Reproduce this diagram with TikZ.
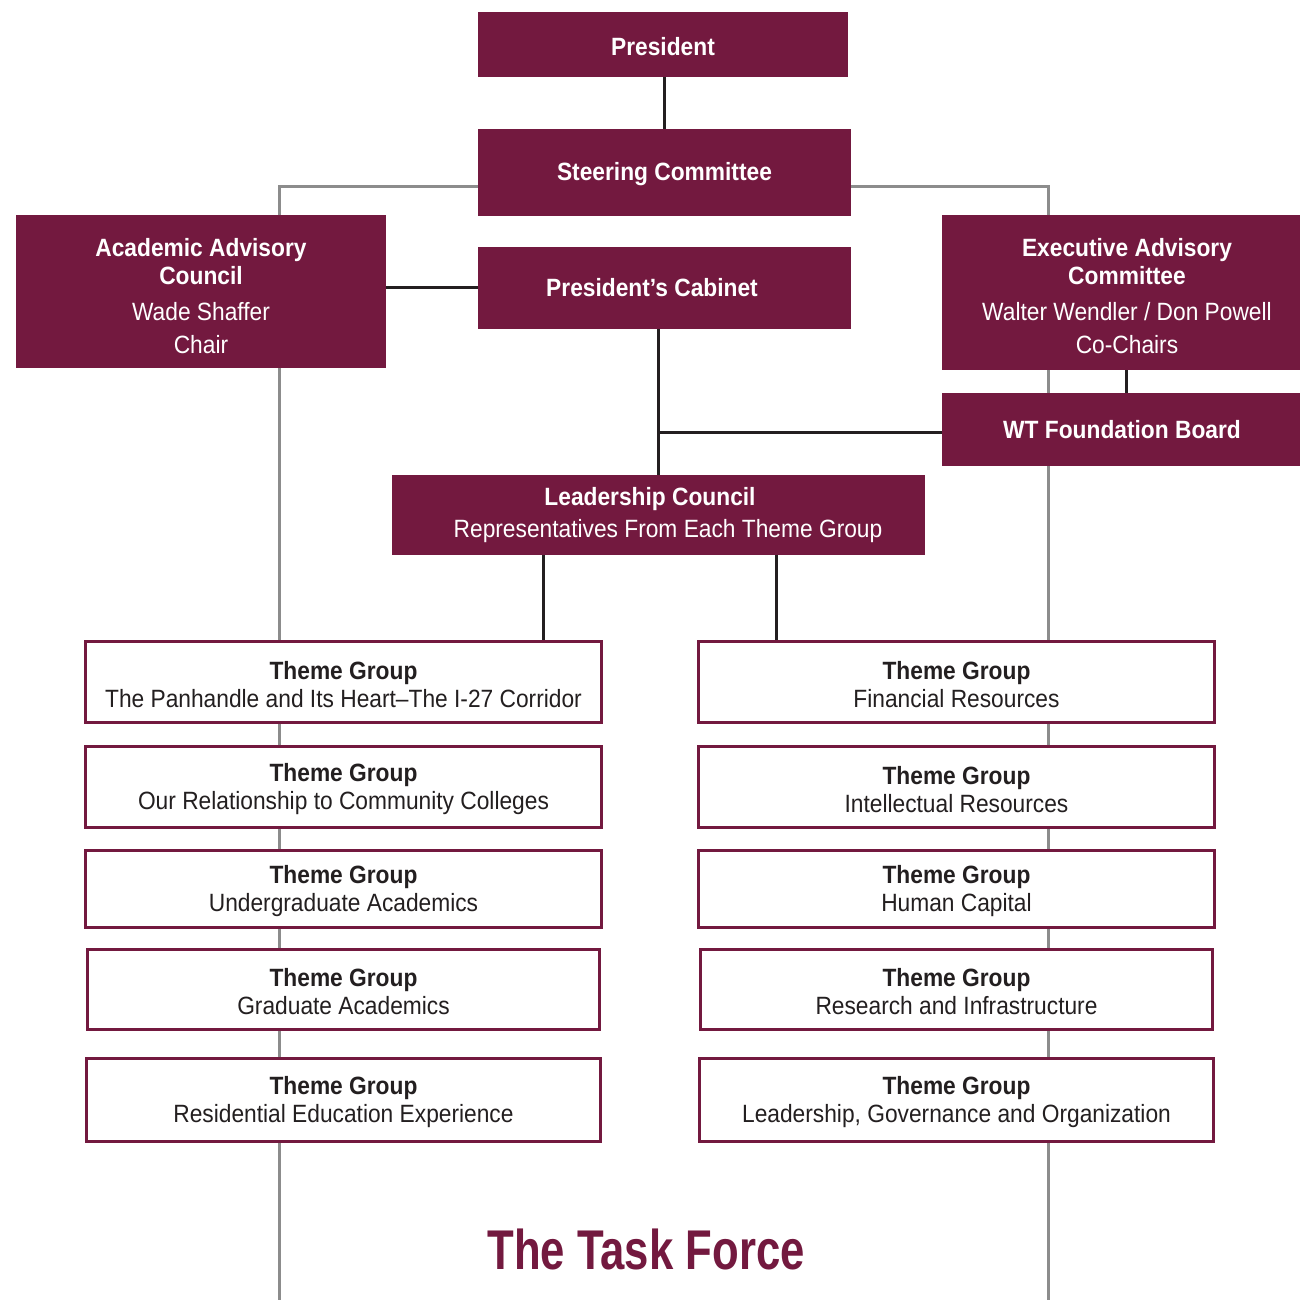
\documentclass[tikz,border=0pt]{standalone}
\usepackage{fontspec}
\setmainfont{Liberation Sans}[FakeStretch=0.91]
\newfontfamily\titlefont{Liberation Sans}[FakeStretch=0.78]
\definecolor{maroon}{RGB}{115,25,63}
\definecolor{grayln}{RGB}{140,140,140}
\definecolor{darkln}{RGB}{35,31,32}
\pgfdeclarelayer{background}
\pgfsetlayers{background,main}
\newcommand{\upstrut}[1]{\rule{0pt}{#1}}
\tikzset{
  mbox/.style={fill=maroon, text=white, inner sep=0pt, outer sep=0pt, align=center,
    font=\fontsize{25}{28}\selectfont},
  tbox/.style={draw=maroon, line width=3pt, fill=white, text=darkln, inner sep=0pt, outer sep=0pt,
    align=center, font=\fontsize{25}{28}\selectfont},
  grayline/.style={draw=grayln, line width=3pt},
  darkline/.style={draw=darkln, line width=3pt},
  titletext/.style={text=maroon, font=\titlefont\bfseries\fontsize{56}{60}\selectfont, inner sep=0pt}
}
\begin{document}
\begin{tikzpicture}[x=1pt,y=-1pt]
\useasboundingbox (0,0) rectangle (1300,1300);

% maroon boxes
\node[mbox, minimum width=370pt, minimum height=65pt] (pres) at (663,44.5) {\upstrut{22pt}\bfseries President};
\node[mbox, minimum width=373pt, minimum height=87pt] (steer) at (664.5,172.5) {\upstrut{22pt}\bfseries Steering Committee};
\node[mbox, minimum width=373pt, minimum height=82pt] (cab) at (664.5,288) {\bfseries President’s Cabinet\hspace*{25pt}};
\node[mbox, minimum width=370pt, minimum height=153pt] (aac) at (201,291.5)
  {\upstrut{28pt}\bfseries Academic Advisory\\\bfseries Council\\[8pt]\mdseries Wade Shaffer\\[5pt]\mdseries Chair};
\node[mbox, minimum width=370pt, minimum height=155pt] (eac) at (1127,292.5)
  {\upstrut{26pt}\bfseries Executive Advisory\\\bfseries Committee\\[8pt]\mdseries Walter Wendler / Don Powell\\[5pt]\mdseries Co-Chairs};
\node[mbox, minimum width=360pt, minimum height=73pt] (wt) at (1122,429.5) {\bfseries WT Foundation Board};
\node[mbox, minimum width=533pt, minimum height=80pt] (lead) at (658.5,515)
  {\bfseries Leadership Council\hspace*{17pt}\\[4pt]\mdseries\hspace*{19pt}Representatives From Each Theme Group};

% theme groups, left
\node[tbox, minimum width=516pt, minimum height=81pt] (L1) at (343.5,682) {\upstrut{23pt}\bfseries Theme Group\\\mdseries The Panhandle and Its Heart–The I-27 Corridor};
\node[tbox, minimum width=516pt, minimum height=81pt] (L2) at (343.5,787) {\upstrut{23pt}\bfseries Theme Group\\\mdseries Our Relationship to Community Colleges};
\node[tbox, minimum width=516pt, minimum height=77pt] (L3) at (343.5,888.5) {\upstrut{23pt}\bfseries Theme Group\\\mdseries Undergraduate Academics};
\node[tbox, minimum width=512pt, minimum height=80pt] (L4) at (343.5,989.5) {\upstrut{23pt}\bfseries Theme Group\\\mdseries Graduate Academics};
\node[tbox, minimum width=514pt, minimum height=83pt] (L5) at (343.5,1100) {\upstrut{23pt}\bfseries Theme Group\\\mdseries Residential Education Experience};

% theme groups, right
\node[tbox, minimum width=516pt, minimum height=81pt] (R1) at (956.5,682) {\upstrut{23pt}\bfseries Theme Group\\\mdseries Financial Resources};
\node[tbox, minimum width=516pt, minimum height=81pt] (R2) at (956.5,787) {\upstrut{23pt}\bfseries Theme Group\\\mdseries Intellectual Resources};
\node[tbox, minimum width=516pt, minimum height=77pt] (R3) at (956.5,888.5) {\upstrut{23pt}\bfseries Theme Group\\\mdseries Human Capital};
\node[tbox, minimum width=512pt, minimum height=80pt] (R4) at (956.5,989.5) {\upstrut{23pt}\bfseries Theme Group\\\mdseries Research and Infrastructure};
\node[tbox, minimum width=514pt, minimum height=83pt] (R5) at (956.5,1100) {\upstrut{23pt}\bfseries Theme Group\\\mdseries Leadership, Governance and Organization};

\node[titletext] (tf) at (646,1249) {The Task Force};

% connectors (behind boxes)
\coordinate (gl) at (279,1300);
\coordinate (gr) at (1048,1300);
\coordinate (j1) at (658,432);
\coordinate (a543) at (543,0);
\coordinate (a776) at (776,0);
\coordinate (a1126) at (1126,0);
\begin{pgfonlayer}{background}
  \fill[white] (0,0) rectangle (1300,1300);
  \draw[grayline] ([yshift=-14.5pt]steer.west) -| (gl);
  \draw[grayline] ([yshift=-14.5pt]steer.east) -| (gr);
  \draw[darkline] (pres.south -| 664,0) -- (steer.north -| 664,0);
  \draw[darkline] (aac.east |- 0,287) -- (cab.west |- 0,287);
  \draw[darkline] (cab.south -| j1) -- (lead.north -| j1);
  \draw[darkline] (j1) -- (j1 -| wt.west);
  \draw[darkline] (eac.south -| a1126) -- (wt.north -| a1126);
  \draw[darkline] (lead.south -| a543) -- (L1.north -| a543);
  \draw[darkline] (lead.south -| a776) -- (R1.north -| a776);
\end{pgfonlayer}
\end{tikzpicture}
\end{document}
